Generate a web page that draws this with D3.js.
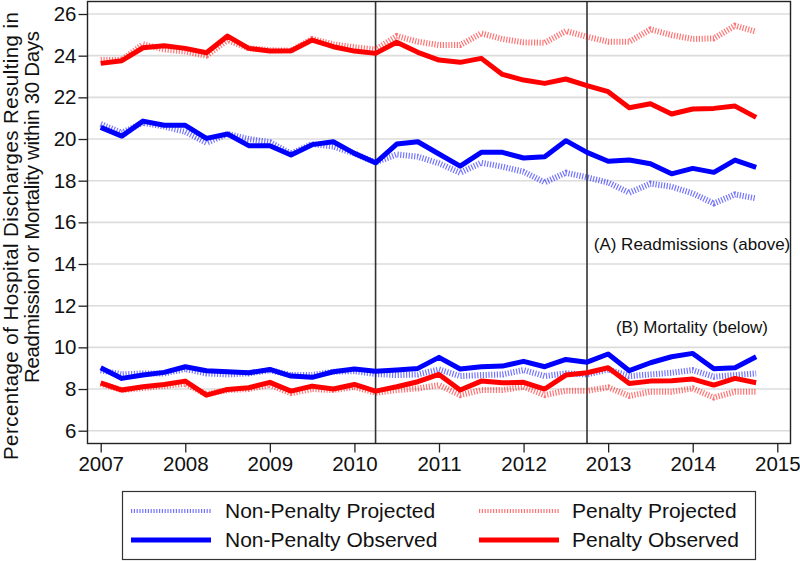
<!DOCTYPE html>
<html><head><meta charset="utf-8">
<script src="https://cdn.jsdelivr.net/npm/d3@7"></script>
<style>
html,body{margin:0;padding:0;background:#fff;}
svg{display:block;font-family:"Liberation Sans",Arial,Helvetica,sans-serif;}
</style></head>
<body>
<svg id="chart" width="800" height="561"></svg>
<script>
// Quarterly time points
const quarters = [2007.00,2007.25,2007.50,2007.75,2008.00,2008.25,2008.50,2008.75,
  2009.00,2009.25,2009.50,2009.75,2010.00,2010.25,2010.50,2010.75,
  2011.00,2011.25,2011.50,2011.75,2012.00,2012.25,2012.50,2012.75,
  2013.00,2013.25,2013.50,2013.75,2014.00,2014.25,2014.50,2014.75];

// (A) Readmissions
const nonPenaltyProjectedRead = [20.72,20.30,20.78,20.60,20.35,19.82,20.24,20.00,19.85,19.30,19.76,19.64,19.30,18.88,19.26,19.15,18.83,18.38,18.86,18.67,18.43,17.92,18.38,18.16,17.91,17.42,17.86,17.71,17.39,16.91,17.34,17.15];
const nonPenaltyObservedRead  = [20.56,20.14,20.86,20.66,20.66,20.03,20.24,19.68,19.68,19.23,19.73,19.87,19.31,18.86,19.76,19.87,19.28,18.70,19.36,19.36,19.09,19.15,19.92,19.36,18.93,18.99,18.81,18.33,18.59,18.40,18.99,18.64];
const penaltyProjectedRead    = [23.79,23.80,24.55,24.30,24.20,24.00,24.75,24.35,24.26,24.24,24.80,24.55,24.40,24.30,24.94,24.67,24.51,24.51,25.07,24.80,24.64,24.62,25.18,24.91,24.67,24.67,25.26,24.99,24.80,24.83,25.44,25.15];
const penaltyObservedRead     = [23.63,23.76,24.38,24.48,24.35,24.14,24.94,24.35,24.22,24.24,24.75,24.43,24.22,24.11,24.64,24.16,23.79,23.68,23.87,23.10,22.83,22.67,22.88,22.56,22.27,21.50,21.69,21.20,21.44,21.47,21.58,21.04];

// (B) Mortality
const nonPenaltyProjectedMort = [8.90,8.70,8.75,8.75,8.96,8.75,8.70,8.75,8.90,8.67,8.67,8.83,8.86,8.72,8.67,8.70,8.94,8.62,8.67,8.70,8.91,8.62,8.75,8.70,8.94,8.62,8.70,8.78,8.91,8.59,8.67,8.75];
const nonPenaltyObservedMort  = [9.02,8.51,8.67,8.80,9.07,8.88,8.83,8.78,8.94,8.62,8.56,8.83,8.96,8.85,8.91,8.99,9.52,8.96,9.07,9.10,9.33,9.07,9.42,9.29,9.68,8.88,9.26,9.55,9.71,8.97,9.02,9.55];
const penaltyProjectedMort    = [8.25,7.95,8.05,8.15,8.25,7.75,7.95,8.00,8.20,7.80,8.00,7.95,8.10,7.82,7.95,8.03,8.19,7.71,7.95,7.95,8.11,7.71,7.92,7.92,8.08,7.67,7.87,7.87,8.03,7.59,7.87,7.87];
const penaltyObservedMort     = [8.30,7.95,8.11,8.22,8.38,7.71,7.98,8.06,8.32,7.90,8.14,8.00,8.22,7.90,8.11,8.35,8.70,7.95,8.38,8.30,8.32,8.00,8.67,8.78,9.02,8.27,8.38,8.40,8.48,8.19,8.51,8.30];

// Axis ticks and reference lines
const xTicks = [2007,2008,2009,2010,2011,2012,2013,2014,2015];
const yTicks = [6,8,10,12,14,16,18,20,22,24,26];
const policyLines = [2010.25, 2012.75];

const legendLabels = ["Non-Penalty Projected","Non-Penalty Observed","Penalty Projected","Penalty Observed"];
const yTitleLines = ["Percentage of Hospital Discharges Resulting in","Readmission or Mortality within 30 Days"];
const panelNotes = ["(A) Readmissions (above)","(B) Mortality (below)"];

const svg = d3.select("#chart");
const frame = {left:87.5, right:790.5, top:1.5, bottom:443.5};

const x = d3.scaleLinear().domain([2007,2015]).range([100.7,777.3]);
const y = d3.scaleLinear().domain([6,26]).range([430.7,14]);

const BLUE = "#0000ff", RED = "#ff0000";

// gridlines
svg.append("g").selectAll("line").data(yTicks).join("line")
  .attr("x1",frame.left).attr("x2",frame.right)
  .attr("y1",d=>y(d)).attr("y2",d=>y(d))
  .attr("stroke","#dcdcdc").attr("stroke-width",1.6);

// policy vertical lines
svg.append("g").selectAll("line").data(policyLines).join("line")
  .attr("x1",d=>x(d)).attr("x2",d=>x(d))
  .attr("y1",frame.top).attr("y2",frame.bottom)
  .attr("stroke","#333").attr("stroke-width",1.6);

const line = d3.line().x((d,i)=>x(quarters[i])).y(d=>y(d));

const projStyle = (sel,color)=>sel.attr("fill","none").attr("stroke",color)
  .attr("stroke-width",6).attr("stroke-dasharray","1.2,1.6").attr("stroke-opacity",0.55);
const obsStyle = (sel,color)=>sel.attr("fill","none").attr("stroke",color)
  .attr("stroke-width",5).attr("stroke-linejoin","round");

const gLines = svg.append("g");
[[nonPenaltyProjectedRead,BLUE],[nonPenaltyProjectedMort,BLUE],
 [penaltyProjectedRead,RED],[penaltyProjectedMort,RED]].forEach(([s,c])=>{
  gLines.append("path").datum(s).attr("d",line).call(projStyle,c);
});
[[nonPenaltyObservedRead,BLUE],[nonPenaltyObservedMort,BLUE],
 [penaltyObservedRead,RED],[penaltyObservedMort,RED]].forEach(([s,c])=>{
  gLines.append("path").datum(s).attr("d",line).call(obsStyle,c);
});

// frame
svg.append("rect").attr("x",frame.left).attr("y",frame.top)
  .attr("width",frame.right-frame.left).attr("height",frame.bottom-frame.top)
  .attr("fill","none").attr("stroke","#222").attr("stroke-width",1.4);

// x axis
const xAxis = svg.append("g").attr("transform",`translate(0,${frame.bottom})`)
  .call(d3.axisBottom(x).tickValues(xTicks).tickFormat(d3.format("d")).tickSize(9).tickPadding(4));
xAxis.select(".domain").remove();
xAxis.selectAll(".tick line").attr("stroke","#222").attr("stroke-width",1.3);
xAxis.selectAll("text").attr("font-size",20.5).attr("fill","#111")
  .attr("font-family","Liberation Sans, Arial, sans-serif");

// y axis
const yAxis = svg.append("g").attr("transform",`translate(${frame.left},0)`)
  .call(d3.axisLeft(y).tickValues(yTicks).tickFormat(d3.format("d")).tickSize(9).tickPadding(2));
yAxis.select(".domain").remove();
yAxis.selectAll(".tick line").attr("stroke","#222").attr("stroke-width",1.3);
yAxis.selectAll("text").attr("font-size",20.5).attr("fill","#111")
  .attr("font-family","Liberation Sans, Arial, sans-serif");

// y title
svg.append("text").attr("transform","translate(17.5,236) rotate(-90)")
  .attr("text-anchor","middle").attr("font-size",20.5).attr("fill","#111")
  .attr("textLength",448).attr("lengthAdjust","spacing")
  .text(yTitleLines[0]);
svg.append("text").attr("transform","translate(38.5,207) rotate(-90)")
  .attr("text-anchor","middle").attr("font-size",20.5).attr("fill","#111")
  .attr("textLength",352).attr("lengthAdjust","spacing")
  .text(yTitleLines[1]);

// panel notes
svg.append("text").attr("x",692).attr("y",250).attr("text-anchor","middle")
  .attr("font-size",17).attr("fill","#111").text(panelNotes[0]);
svg.append("text").attr("x",692).attr("y",333).attr("text-anchor","middle")
  .attr("font-size",17).attr("fill","#111").text(panelNotes[1]);

// legend
const leg = svg.append("g");
leg.append("rect").attr("x",122.5).attr("y",491.5).attr("width",633).attr("height",68)
  .attr("fill","#fff").attr("stroke","#333").attr("stroke-width",1.2);
const legItems = [
  {label:legendLabels[0], color:BLUE, proj:true,  sx:131, tx:225, yy:511},
  {label:legendLabels[1], color:BLUE, proj:false, sx:131, tx:225, yy:540},
  {label:legendLabels[2], color:RED,  proj:true,  sx:479, tx:572, yy:511},
  {label:legendLabels[3], color:RED,  proj:false, sx:479, tx:572, yy:540}
];
legItems.forEach(it=>{
  const l = leg.append("line").attr("x1",it.sx).attr("x2",it.sx+80)
    .attr("y1",it.yy).attr("y2",it.yy);
  if(it.proj) l.call(projStyle,it.color).attr("stroke-width",4);
  else l.call(obsStyle,it.color);
  leg.append("text").attr("x",it.tx).attr("y",it.yy+7).attr("font-size",21)
    .attr("fill","#111").text(it.label);
});
</script>
</body></html>
